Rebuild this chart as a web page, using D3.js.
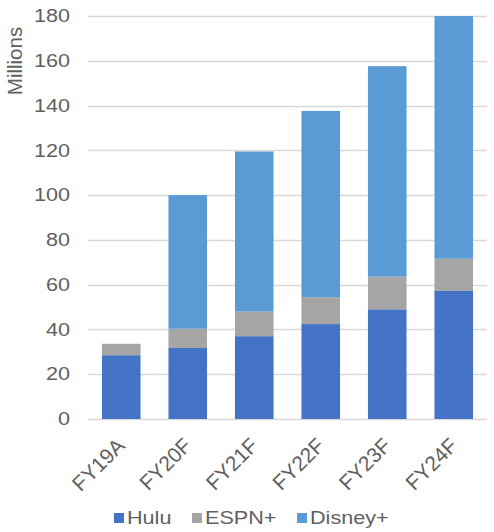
<!DOCTYPE html>
<html><head><meta charset="utf-8">
<script src="https://cdn.jsdelivr.net/npm/d3@7"></script>
<style>body{margin:0;background:#fff}svg{display:block}text{font-family:"Liberation Sans",Arial,sans-serif}</style>
</head><body>
<script>
const categories = ["FY19A","FY20F","FY21F","FY22F","FY23F","FY24F"];
const seriesNames = ["Hulu","ESPN+","Disney+"];
const hulu = [28.5, 31.7, 37.0, 42.4, 49.0, 57.2];
const espn = [5.1, 8.6, 11.0, 12.0, 14.6, 14.4];
const disney = [0, 59.7, 71.5, 83.2, 94.0, 108.4];
const yTicks = [0,20,40,60,80,100,120,140,160,180];
const colors = ["#4472C4","#A5A5A5","#5B9BD5"];

const W=494,H=532, SX=1.2, FS=18, TXT="#606060";
const m={left:88,right:7,top:16,bottom:113};
const svg=d3.select("body").append("svg").attr("width",W).attr("height",H);
const x=d3.scaleBand().domain(categories).range([m.left,W-m.right]).paddingInner(0.42).paddingOuter(0.21);
const y=d3.scaleLinear().domain([0,180]).range([H-m.bottom,m.top]);

const rows=categories.map((c,i)=>({cat:c,"Hulu":hulu[i],"ESPN+":espn[i],"Disney+":disney[i]}));
const stacked=d3.stack().keys(seriesNames)(rows);

// gridlines
svg.append("g").selectAll("line").data(yTicks).join("line")
  .attr("x1",m.left).attr("x2",W-m.right)
  .attr("y1",d=>Math.round(y(d))+0.5).attr("y2",d=>Math.round(y(d))+0.5)
  .attr("stroke","#D9D9D9").attr("stroke-width",1.5);

// bars
svg.append("g").selectAll("g").data(stacked).join("g").attr("fill",(d,i)=>colors[i])
  .selectAll("rect").data(d=>d).join("rect")
  .attr("x",d=>x(d.data.cat)).attr("width",x.bandwidth())
  .attr("y",d=>y(d[1])).attr("height",d=>Math.max(0,y(d[0])-y(d[1])));

// y axis
const ya=svg.append("g").attr("transform",`translate(${m.left},0)`)
  .call(d3.axisLeft(y).tickValues(yTicks).tickSize(0).tickPadding(18));
ya.select(".domain").remove();
ya.selectAll("text").attr("font-size",FS).attr("fill",TXT)
  .attr("font-family","Liberation Sans, Arial, sans-serif")
  .attr("x",-18/SX).attr("transform",`scale(${SX},1)`);

// y title
svg.append("text").attr("transform",`translate(22,61) rotate(-90)`)
  .attr("text-anchor","middle").attr("font-size",20.5).attr("fill",TXT).text("Millions");

// x axis
const xa=svg.append("g").attr("transform",`translate(0,${H-m.bottom})`)
  .call(d3.axisBottom(x).tickSize(0).tickPadding(0));
xa.select(".domain").remove();
xa.selectAll("text").attr("font-size",21).attr("fill",TXT)
  .attr("font-family","Liberation Sans, Arial, sans-serif")
  .attr("text-anchor","end").attr("dy",0).attr("y",0)
  .attr("transform",`translate(5,28) rotate(-45)`);

// legend
const legX=[114,192,297];
const lg=svg.append("g").selectAll("g").data(seriesNames).join("g")
  .attr("transform",(d,i)=>`translate(${legX[i]},518)`);
lg.append("rect").attr("x",0).attr("y",-5).attr("width",10).attr("height",10).attr("fill",(d,i)=>colors[i]);
lg.append("text").attr("x",13/SX).attr("dy","0.36em").attr("font-size",FS).attr("fill",TXT)
  .attr("transform",`scale(${SX},1)`).text(d=>d);
</script>
</body></html>
